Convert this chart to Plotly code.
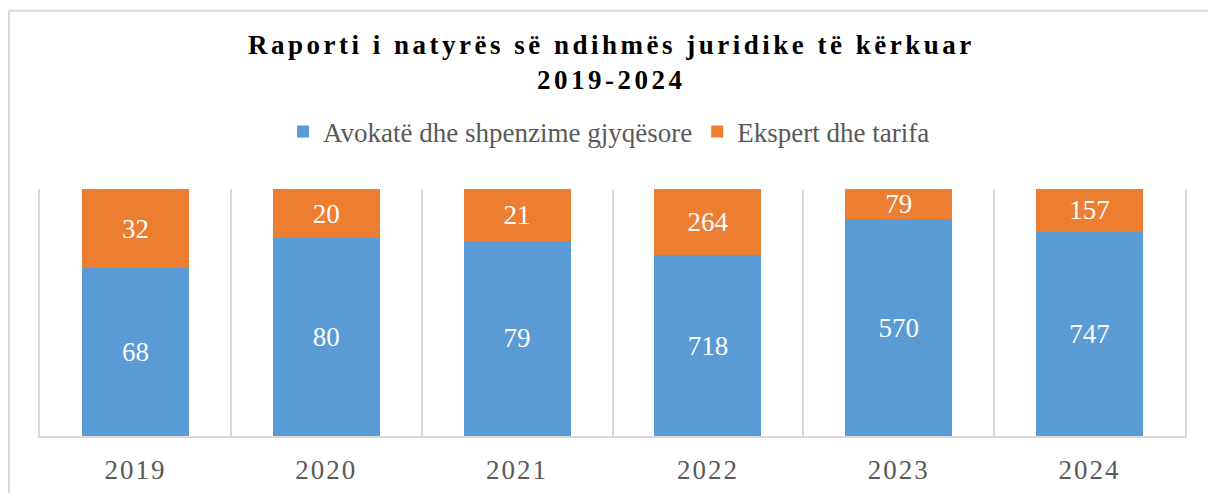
import plotly.graph_objects as go

years = ["2019", "2020", "2021", "2022", "2023", "2024"]
avokate = [68, 80, 79, 718, 570, 747]
ekspert = [32, 20, 21, 264, 79, 157]
series_names = ["Avokatë dhe shpenzime gjyqësore", "Ekspert dhe tarifa"]
title_lines = ["Raporti i natyrës së ndihmës juridike të kërkuar", "2019-2024"]

BLUE = "#5b9bd5"
ORANGE = "#ed7d31"
GRID = "#d9d9d9"
FONT = "Liberation Serif, Times New Roman, serif"

fig = go.Figure()
for name, vals, col in [(series_names[0], avokate, BLUE), (series_names[1], ekspert, ORANGE)]:
    fig.add_trace(go.Bar(
        x=years, y=vals, name=name,
        marker=dict(color=col, line=dict(width=0)),
        text=[str(v) for v in vals], texttemplate="%{text}",
        textposition="inside", insidetextanchor="middle", textangle=0,
        textfont=dict(family=FONT, size=27, color="white"),
        width=0.56, hoverinfo="skip",
    ))

fig.update_layout(
    width=1208, height=493,
    barmode="stack", barnorm="percent",
    paper_bgcolor="white", plot_bgcolor="white",
    margin=dict(l=40, r=23, t=189, b=57, autoexpand=False),
    title=dict(
        text="<b>" + title_lines[0] + "<br>" + title_lines[1] + "</b>",
        x=0.499, xanchor="center", xref="paper",
        y=0.89, yanchor="top", yref="container",
        font=dict(family=FONT, size=27, color="black"),
    ),
    legend=dict(
        orientation="h", x=0.497, xanchor="center", y=1.231, yanchor="middle",
        font=dict(family=FONT, size=27, color="#595959"),
        traceorder="normal", itemclick=False, itemdoubleclick=False,
    ),
    uniformtext=dict(minsize=27, mode="show"),
    showlegend=True,
    shapes=[
        dict(type="line", xref="paper", yref="paper", x0=-0.0271, x1=1.03, y0=1.722, y1=1.722,
             line=dict(color=GRID, width=2)),
        dict(type="line", xref="paper", yref="paper", x0=-0.0271, x1=-0.0271, y0=1.722, y1=-0.3,
             line=dict(color=GRID, width=2)),
    ],
)
fig.update_xaxes(
    type="category", tickson="boundaries", showgrid=True, gridcolor=GRID, gridwidth=1.5,
    showline=True, linecolor=GRID, linewidth=1.5, ticks="", ticklabelstandoff=9,
    automargin=False,
    tickfont=dict(family=FONT, size=27, color="#595959"), fixedrange=True,
)
fig.update_yaxes(
    range=[0, 100], showgrid=False, showticklabels=False, zeroline=False, automargin=False,
    showline=True, mirror=True, linecolor=GRID, linewidth=1.5, ticks="", fixedrange=True,
)

post = """
document.body.style.margin = '0';
document.body.style.padding = '0';
var gd = document.getElementById('{plot_id}');
function ls(){
  gd.querySelectorAll('.gtitle').forEach(function(e){ e.setAttribute('letter-spacing','3.5px'); });
  gd.querySelectorAll('.xtick text').forEach(function(e){ e.setAttribute('letter-spacing','2px'); });
}
ls();
gd.on('plotly_afterplot', ls);
"""
fig.write_html("out.html", post_script=post, config={"displayModeBar": False})
